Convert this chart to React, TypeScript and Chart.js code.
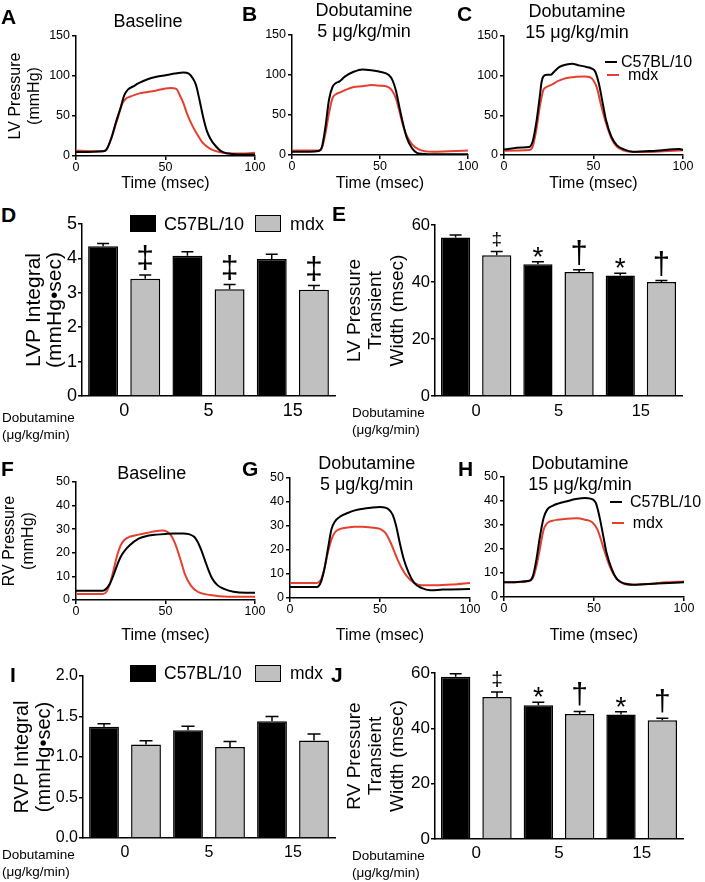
import React, { useEffect, useRef } from 'react';
import { Chart, registerables } from 'chart.js';

Chart.register(...registerables);

const FONT = '"Liberation Sans", Arial, Helvetica, sans-serif';
const RED = '#e5402f';
const GRAY = '#c0c0c0';
const BLACK = '#000000';

Chart.defaults.font.family = FONT;
Chart.defaults.color = BLACK;

// ---------- Pressure traces (time in msec, pressure in mmHg) ----------
// A: LV, baseline
const A_wt_t = [0, 15, 17, 20, 22, 25, 27, 29, 32, 35, 40, 45, 50, 55, 60, 63, 65, 67, 69, 71, 73, 75, 78, 81, 85, 90, 100];
const A_wt_p = [5, 6, 8, 24, 40, 61, 76, 83, 87, 91, 96, 99, 101, 103, 104.5, 103, 98, 89, 70, 49, 32, 22, 12.5, 6, 3, 2, 2];
const A_mdx_t = [0, 10, 15, 17, 20, 23, 26, 28, 30, 35, 40, 45, 50, 53, 56, 58, 60, 62, 65, 68, 71, 75, 80, 90, 100];
const A_mdx_p = [7, 6, 6, 8, 24, 45, 66, 72, 74, 78, 80, 82, 84.5, 85, 84, 76, 66, 53, 38, 26, 16, 9, 5, 3, 4];
// B: LV, dobutamine 5
const B_wt_t = [0, 10, 15, 17, 19, 21, 23, 25, 27, 30, 35, 40, 45, 50, 55, 57, 59, 61, 63, 65, 68, 72, 80, 100];
const B_wt_p = [4, 4, 5, 10, 35, 69, 85, 90, 92, 98, 104, 107, 106, 104, 100, 94, 81, 60, 40, 23, 9, 2, 1, 1];
const B_mdx_t = [0, 15, 17, 19, 21, 23, 25, 27, 30, 35, 40, 45, 50, 55, 57, 59, 61, 63, 65, 68, 72, 80, 100];
const B_mdx_p = [5.5, 5.5, 9, 27, 52, 71, 76, 78, 81, 85, 86, 87.5, 86.7, 84.6, 80, 71, 55, 37.5, 25, 14, 7, 4, 5.5];
// C: LV, dobutamine 15
const C_wt_t = [0, 10, 14, 16, 18, 20, 21, 22, 24, 26, 28, 31, 35, 38, 42, 46, 49, 51, 53, 55, 57, 60, 63, 67, 72, 85, 98, 100];
const C_wt_p = [7, 9.5, 10, 17, 40, 74, 92, 99, 101, 101, 105, 111, 114, 115, 113, 111, 109, 105, 90, 67, 44, 23, 12.5, 7, 4, 5.5, 7.5, 6.7];
const C_mdx_t = [0, 14, 16, 18, 20, 22, 24, 27, 30, 35, 40, 45, 48, 50, 52, 54, 57, 60, 63, 67, 72, 85, 100];
const C_mdx_p = [5.5, 6.3, 10.5, 31, 61, 82, 86, 89, 93, 97, 98.5, 99, 98, 94, 84, 65, 40, 21, 10.5, 5.5, 3.8, 4.2, 6];
// F: RV, baseline
const F_wt_t = [0, 15, 17, 19, 21, 23, 25, 27, 30, 35, 40, 45, 50, 55, 60, 63, 66, 68, 70, 72, 74, 76, 79, 83, 88, 95, 100];
const F_wt_p = [3.9, 3.9, 4.9, 7, 10.6, 14.8, 18.3, 20.7, 23.2, 26, 27.2, 27.7, 28, 28.2, 28.2, 27.9, 26.8, 24.6, 21.1, 16.9, 12.7, 9.2, 6.3, 4.6, 3.5, 3.1, 3.1];
const F_mdx_t = [0, 15, 17, 19, 21, 23, 25, 27, 30, 35, 40, 45, 48, 51, 53, 55, 57, 59, 61, 64, 68, 75, 85, 100];
const F_mdx_p = [2.5, 2.5, 3.5, 7, 12.7, 19, 23.2, 25.4, 26.8, 27.7, 28.5, 29.2, 29.4, 28.9, 27.5, 24.6, 20.4, 15.5, 10.6, 6.3, 3.5, 2.1, 1.4, 1.4];
// G: RV, dobutamine 5
const G_wt_t = [0, 15, 17, 19, 21, 23, 25, 28, 32, 36, 40, 45, 50, 55, 57, 59, 61, 63, 66, 69, 73, 78, 85, 100];
const G_wt_p = [4.6, 4.6, 6.3, 11.8, 20.1, 28.5, 31.9, 34, 35.4, 36.5, 37.1, 37.6, 37.9, 36.8, 34.7, 29.9, 22.9, 16.7, 10.4, 6.3, 4.2, 3.2, 3.5, 3.75];
const G_mdx_t = [0, 15, 17, 19, 21, 23, 25, 28, 32, 36, 40, 45, 50, 53, 56, 59, 62, 65, 69, 73, 80, 90, 100];
const G_mdx_p = [6.3, 6.3, 7.4, 11.8, 18.8, 24.3, 27.4, 28.8, 29.4, 29.7, 29.7, 29.4, 28.8, 27.1, 22.9, 17.4, 12.5, 9, 6.3, 5.3, 5.3, 5.6, 6.3];
// H: RV, dobutamine 15
const H_wt_t = [0, 14, 16, 18, 20, 22, 24, 27, 30, 35, 40, 45, 48, 51, 53, 55, 57, 60, 63, 67, 72, 85, 100];
const H_wt_p = [6.1, 6.8, 8.6, 15.6, 25.3, 32.9, 36.4, 38, 38.9, 39.9, 40.8, 41.25, 41, 39.2, 33.6, 26, 18.3, 11.4, 7.2, 5.6, 5.1, 5.6, 6.1];
const H_mdx_t = [0, 14, 16, 18, 20, 22, 24, 27, 30, 35, 40, 45, 49, 52, 55, 58, 61, 65, 70, 80, 90, 100];
const H_mdx_p = [6.1, 6.7, 7.9, 12.8, 20.4, 28, 30.8, 31.8, 32.2, 32.6, 32.8, 32.2, 31.1, 28, 21.1, 14.2, 9.3, 6.1, 5.1, 5.4, 6.1, 6.5];

// ---------- Bar data ----------
const DOSES = ['0', '5', '15'];
const D_wt = [4.35, 4.08, 3.98];
const D_wt_err = [0.08, 0.11, 0.14];
const D_mdx = [3.41, 3.1, 3.09];
const D_mdx_err = [0.11, 0.14, 0.12];
const D_wt_sig = ['', '', ''];
const D_mdx_sig = ['‡', '‡', '‡'];

const E_wt = [55.6, 46.2, 42.3];
const E_wt_err = [0.9, 0.9, 0.8];
const E_mdx = [49.4, 43.5, 40.0];
const E_mdx_err = [1.3, 0.8, 0.5];
const E_wt_sig = ['', '*', '*'];
const E_mdx_sig = ['‡', '†', '†'];

const I_wt = [1.375, 1.33, 1.44];
const I_wt_err = [0.035, 0.05, 0.06];
const I_mdx = [1.155, 1.125, 1.205];
const I_mdx_err = [0.045, 0.065, 0.08];
const I_wt_sig = ['', '', ''];
const I_mdx_sig = ['', '', ''];

const J_wt = [58.6, 48.3, 45.0];
const J_wt_err = [1.1, 1.1, 1.0];
const J_mdx = [51.3, 45.2, 42.9];
const J_mdx_err = [1.8, 0.9, 0.7];
const J_wt_sig = ['', '*', '*'];
const J_mdx_sig = ['‡', '†', '†'];

// ---------- helpers ----------
type Area = { left: number; top: number; right: number; bottom: number };

const errorBarPlugin = {
  id: 'errbars',
  afterDatasetsDraw(chart: any, _args: any, opts: any) {
    const ctx = chart.ctx;
    const ys = chart.scales.y;
    chart.data.datasets.forEach((ds: any, i: number) => {
      const meta = chart.getDatasetMeta(i);
      meta.data.forEach((bar: any, j: number) => {
        const v = ds.data[j];
        const e = ds.errors ? ds.errors[j] : 0;
        const x = bar.x;
        const y0 = ys.getPixelForValue(v);
        const y1 = ys.getPixelForValue(v + e);
        ctx.save();
        ctx.strokeStyle = BLACK;
        ctx.lineWidth = 1.5;
        ctx.beginPath();
        ctx.moveTo(x, y0);
        ctx.lineTo(x, y1);
        ctx.moveTo(x - opts.cap / 2, y1);
        ctx.lineTo(x + opts.cap / 2, y1);
        ctx.stroke();
        const m = ds.marks ? ds.marks[j] : '';
        if (m) {
          ctx.fillStyle = BLACK;
          ctx.font = `${opts.sizes[m]}px ${FONT}`;
          ctx.textAlign = 'center';
          ctx.textBaseline = 'alphabetic';
          const met = ctx.measureText(m);
          ctx.fillText(m, x, y1 - opts.gap - met.actualBoundingBoxDescent);
        }
        ctx.restore();
      });
    });
  },
};

function toPts(t: number[], p: number[]) {
  return t.map((x, i) => ({ x, y: p[i] }));
}

type Geo = { left: number; top: number; width: number; height: number; yW: number; xH: number; padTop: number; padRight: number };

// canvas box in whole pixels so nothing gets resampled
function geom(area: Area, canvasLeft: number, padTop: number, padRight: number, xH: number): Geo {
  const left = Math.round(canvasLeft);
  const aLeft = Math.round(area.left);
  const aTop = Math.round(area.top);
  const aRight = Math.round(area.right);
  const aBottom = Math.round(area.bottom);
  const h = Math.round(xH);
  return {
    left,
    top: aTop - padTop,
    width: aRight + padRight - left,
    height: aBottom + h - (aTop - padTop),
    yW: aLeft - left,
    xH: h,
    padTop,
    padRight,
  };
}

const axisCommon = {
  grid: { display: true, drawOnChartArea: false, drawTicks: true, tickLength: 4, color: BLACK, lineWidth: 1.5 },
  border: { display: true, color: BLACK, width: 1.5 },
};

function lineConfig(
  g: Geo,
  yMax: number,
  yStep: number,
  yTitle: string[] | null,
  wt: { x: number; y: number }[],
  mdx: { x: number; y: number }[]
): any {
  return {
    type: 'line',
    data: {
      datasets: [
        { label: 'C57BL/10', data: wt, borderColor: BLACK, borderWidth: 2, pointRadius: 0, cubicInterpolationMode: 'monotone', fill: false },
        { label: 'mdx', data: mdx, borderColor: RED, borderWidth: 2, pointRadius: 0, cubicInterpolationMode: 'monotone', fill: false },
      ],
    },
    options: {
      animation: false,
      responsive: false,
      devicePixelRatio: 1,
      layout: { padding: { top: g.padTop, right: g.padRight, left: 0, bottom: 0 } },
      plugins: { legend: { display: false }, tooltip: { enabled: false } },
      scales: {
        x: {
          type: 'linear',
          min: 0,
          max: 100,
          ...axisCommon,
          ticks: { stepSize: 50, font: { size: 12.5 }, padding: 0, maxRotation: 0, color: BLACK },
          title: { display: true, text: 'Time (msec)', font: { size: 16, lineHeight: 1.2 }, padding: { top: 0, bottom: 0 }, color: BLACK },
          afterFit: (s: any) => {
            s.height = g.xH;
            s.paddingLeft = 0;
            s.paddingRight = 0;
          },
        },
        y: {
          type: 'linear',
          min: 0,
          max: yMax,
          ...axisCommon,
          ticks: { stepSize: yStep, font: { size: 12.5 }, padding: 2, color: BLACK },
          title: yTitle
            ? { display: true, text: yTitle, font: { size: 16, lineHeight: 1.2 }, padding: { top: 0, bottom: 0 }, color: BLACK }
            : { display: false },
          afterFit: (s: any) => {
            s.width = g.yW;
            s.paddingTop = 0;
            s.paddingBottom = 0;
          },
        },
      },
    },
  };
}

function barConfig(
  g: Geo,
  yMax: number,
  yStep: number,
  yFmt: (v: number) => string,
  yTitle: string[],
  titleSize: number,
  titleLH: number,
  tickSize: number,
  xPad: number,
  wt: number[],
  wtErr: number[],
  wtSig: string[],
  mdx: number[],
  mdxErr: number[],
  mdxSig: string[],
  cap: number,
  sizes: Record<string, number>
): any {
  return {
    type: 'bar',
    data: {
      labels: DOSES,
      datasets: [
        { label: 'C57BL/10', data: wt, errors: wtErr, marks: wtSig, backgroundColor: BLACK, borderColor: BLACK, borderWidth: 1.5 },
        { label: 'mdx', data: mdx, errors: mdxErr, marks: mdxSig, backgroundColor: GRAY, borderColor: BLACK, borderWidth: 1.5 },
      ],
    },
    plugins: [errorBarPlugin],
    options: {
      animation: false,
      responsive: false,
      devicePixelRatio: 1,
      layout: { padding: { top: g.padTop, right: g.padRight, left: 0, bottom: 0 } },
      datasets: { bar: { categoryPercentage: 1.0, barPercentage: 0.71 } },
      plugins: {
        legend: { display: false },
        tooltip: { enabled: false },
        errbars: { cap, gap: 5, sizes },
      },
      scales: {
        x: {
          type: 'category',
          grid: { display: false, drawTicks: false, tickLength: 0 },
          border: { display: true, color: BLACK, width: 1.5 },
          ticks: { font: { size: tickSize }, padding: xPad, maxRotation: 0, color: BLACK },
          afterFit: (s: any) => {
            s.height = g.xH;
            s.paddingLeft = 0;
            s.paddingRight = 0;
          },
        },
        y: {
          type: 'linear',
          min: 0,
          max: yMax,
          ...axisCommon,
          ticks: { stepSize: yStep, font: { size: tickSize }, padding: 1, color: BLACK, callback: (v: any) => yFmt(Number(v)) },
          title: { display: true, text: yTitle, font: { size: titleSize, lineHeight: titleLH }, padding: { top: 0, bottom: 0 }, color: BLACK },
          afterFit: (s: any) => {
            s.width = g.yW;
            s.paddingTop = 0;
            s.paddingBottom = 0;
          },
        },
      },
    },
  };
}

function ChartCanvas({ g, config }: { g: Geo; config: any }) {
  const ref = useRef<HTMLCanvasElement>(null);
  useEffect(() => {
    const chart = new Chart(ref.current as HTMLCanvasElement, config);
    return () => chart.destroy();
  }, []);
  return (
    <canvas
      ref={ref}
      width={g.width}
      height={g.height}
      style={{ position: 'absolute', left: g.left, top: g.top, width: g.width, height: g.height }}
    />
  );
}

// ---------- text overlays ----------
function Letter({ ch, left, top }: { ch: string; left: number; top: number }) {
  return (
    <div style={{ position: 'absolute', left, top, fontFamily: FONT, fontWeight: 'bold', fontSize: 21, lineHeight: '21px', color: BLACK }}>
      {ch}
    </div>
  );
}

function Title({ lines, cx, top }: { lines: string[]; cx: number; top: number }) {
  return (
    <div
      style={{
        position: 'absolute',
        left: cx - 100,
        top,
        width: 200,
        textAlign: 'center',
        fontFamily: FONT,
        fontSize: 18,
        lineHeight: '21px',
        color: BLACK,
        whiteSpace: 'nowrap',
      }}
    >
      {lines.map((l, i) => (
        <div key={i}>{l}</div>
      ))}
    </div>
  );
}

function DoseLabel({ left, top }: { left: number; top: number }) {
  return (
    <div style={{ position: 'absolute', left, top, fontFamily: FONT, fontSize: 13.5, lineHeight: '17px', color: BLACK, whiteSpace: 'nowrap' }}>
      <div>Dobutamine</div>
      <div>(μg/kg/min)</div>
    </div>
  );
}

function LineKey({ x, y, color, textX, text }: { x: number; y: number; color: string; textX: number; text: string }) {
  return (
    <>
      <div style={{ position: 'absolute', left: x, top: y - 1, width: 12, height: 2, background: color }} />
      <div
        style={{
          position: 'absolute',
          left: textX,
          top: y - 8,
          fontFamily: FONT,
          fontSize: 16,
          lineHeight: '16px',
          color: BLACK,
          whiteSpace: 'nowrap',
        }}
      >
        {text}
      </div>
    </>
  );
}

function BarKey({ top, size }: { top: number; size: number }) {
  const box = (left: number, fill: string) => (
    <div
      style={{
        position: 'absolute',
        left,
        top,
        width: 26,
        height: 17,
        boxSizing: 'border-box',
        background: fill,
        border: '1.5px solid #000',
      }}
    />
  );
  const txt = (left: number, t: string) => (
    <div
      style={{
        position: 'absolute',
        left,
        top: top + 8.5 - size / 2,
        fontFamily: FONT,
        fontSize: size,
        lineHeight: `${size}px`,
        color: BLACK,
        whiteSpace: 'nowrap',
      }}
    >
      {t}
    </div>
  );
  return (
    <>
      {box(130, BLACK)}
      {txt(164, 'C57BL/10')}
      {box(255, GRAY)}
      {txt(290, 'mdx')}
    </>
  );
}

// ---------- geometry ----------
const gA = geom({ left: 76, top: 36, right: 255, bottom: 156 }, 6, 10, 14, 183 + 9.6 - 156);
const gB = geom({ left: 292, top: 35, right: 468, bottom: 155 }, 252, 10, 14, 183 + 9.6 - 155);
const gC = geom({ left: 504, top: 36, right: 683, bottom: 155 }, 464, 10, 14, 183 + 9.6 - 155);
const gF = geom({ left: 76, top: 482, right: 255, bottom: 600 }, 0, 10, 14, 635 + 9.6 - 600);
const gG = geom({ left: 290, top: 478, right: 470, bottom: 598 }, 250, 10, 14, 635 + 9.6 - 598);
const gH = geom({ left: 504, top: 477, right: 684, bottom: 597 }, 464, 10, 14, 635 + 9.6 - 597);

const gD = geom({ left: 82, top: 224, right: 335, bottom: 396 }, 24, 12, 6, 30);
const gE = geom({ left: 435, top: 225, right: 682, bottom: 396 }, 344, 12, 6, 30);
const gI = geom({ left: 83, top: 676, right: 335, bottom: 838 }, 11, 12, 6, 30);
const gJ = geom({ left: 435, top: 673, right: 683, bottom: 839 }, 344, 12, 6, 30);

const fmtInt = (v: number) => String(v);
const fmt1 = (v: number) => v.toFixed(1);

export default function App() {
  const cfgA = lineConfig(gA, 150, 50, ['LV Pressure', '(mmHg)'], toPts(A_wt_t, A_wt_p), toPts(A_mdx_t, A_mdx_p));
  const cfgB = lineConfig(gB, 150, 50, null, toPts(B_wt_t, B_wt_p), toPts(B_mdx_t, B_mdx_p));
  const cfgC = lineConfig(gC, 150, 50, null, toPts(C_wt_t, C_wt_p), toPts(C_mdx_t, C_mdx_p));
  const cfgF = lineConfig(gF, 50, 10, ['RV Pressure', '(mmHg)'], toPts(F_wt_t, F_wt_p), toPts(F_mdx_t, F_mdx_p));
  const cfgG = lineConfig(gG, 50, 10, null, toPts(G_wt_t, G_wt_p), toPts(G_mdx_t, G_mdx_p));
  const cfgH = lineConfig(gH, 50, 10, null, toPts(H_wt_t, H_wt_p), toPts(H_mdx_t, H_mdx_p));

  const cfgD = barConfig(gD, 5, 1, fmtInt, ['LVP Integral', '(mmHg•sec)'], 21, 1.0, 18, 4.2,
    D_wt, D_wt_err, D_wt_sig, D_mdx, D_mdx_err, D_mdx_sig, 12, { '‡': 32, '†': 30, '*': 28 });
  const cfgE = barConfig(gE, 60, 20, fmtInt, ['LV Pressure', 'Transient', 'Width (msec)'], 19, 1.13, 16.5, 6,
    E_wt, E_wt_err, E_wt_sig, E_mdx, E_mdx_err, E_mdx_sig, 12, { '‡': 19, '†': 31, '*': 28 });
  const cfgI = barConfig(gI, 2, 0.5, fmt1, ['RVP Integral', '(mmHg•sec)'], 20, 1.1, 16, 5,
    I_wt, I_wt_err, I_wt_sig, I_mdx, I_mdx_err, I_mdx_sig, 13, { '‡': 19, '†': 30, '*': 28 });
  const cfgJ = barConfig(gJ, 60, 20, fmtInt, ['RV Pressure', 'Transient', 'Width (msec)'], 19, 1.13, 17, 3.8,
    J_wt, J_wt_err, J_wt_sig, J_mdx, J_mdx_err, J_mdx_sig, 12, { '‡': 21, '†': 30, '*': 28 });

  return (
    <div style={{ position: 'absolute', left: 0, top: 0, width: 705, height: 882, background: '#fff', overflow: 'hidden' }}>
      <ChartCanvas g={gA} config={cfgA} />
      <ChartCanvas g={gB} config={cfgB} />
      <ChartCanvas g={gC} config={cfgC} />
      <ChartCanvas g={gD} config={cfgD} />
      <ChartCanvas g={gE} config={cfgE} />
      <ChartCanvas g={gF} config={cfgF} />
      <ChartCanvas g={gG} config={cfgG} />
      <ChartCanvas g={gH} config={cfgH} />
      <ChartCanvas g={gI} config={cfgI} />
      <ChartCanvas g={gJ} config={cfgJ} />

      <Letter ch="A" left={1} top={5.5} />
      <Letter ch="B" left={242} top={3} />
      <Letter ch="C" left={457} top={3} />
      <Letter ch="D" left={1} top={204} />
      <Letter ch="E" left={332} top={203} />
      <Letter ch="F" left={1} top={458} />
      <Letter ch="G" left={242} top={458} />
      <Letter ch="H" left={458} top={458} />
      <Letter ch="I" left={10} top={664} />
      <Letter ch="J" left={331} top={664} />

      <Title lines={['Baseline']} cx={148} top={11.3} />
      <Title lines={['Dobutamine', '5 μg/kg/min']} cx={364} top={0.3} />
      <Title lines={['Dobutamine', '15 μg/kg/min']} cx={577} top={1.3} />
      <Title lines={['Baseline']} cx={151.7} top={463.3} />
      <Title lines={['Dobutamine', '5 μg/kg/min']} cx={366.7} top={453.3} />
      <Title lines={['Dobutamine', '15 μg/kg/min']} cx={580} top={453.3} />

      <LineKey x={605} y={62} color={BLACK} textX={621} text="C57BL/10" />
      <LineKey x={607} y={74.5} color={RED} textX={628} text="mdx" />
      <LineKey x={610} y={501.7} color={BLACK} textX={630} text="C57BL/10" />
      <LineKey x={612} y={523.3} color={RED} textX={632.7} text="mdx" />

      <BarKey top={215} size={18} />
      <BarKey top={665} size={17.5} />

      <DoseLabel left={2} top={408.8} />
      <DoseLabel left={352} top={403.8} />
      <DoseLabel left={2} top={845.8} />
      <DoseLabel left={352} top={847.3} />
    </div>
  );
}
